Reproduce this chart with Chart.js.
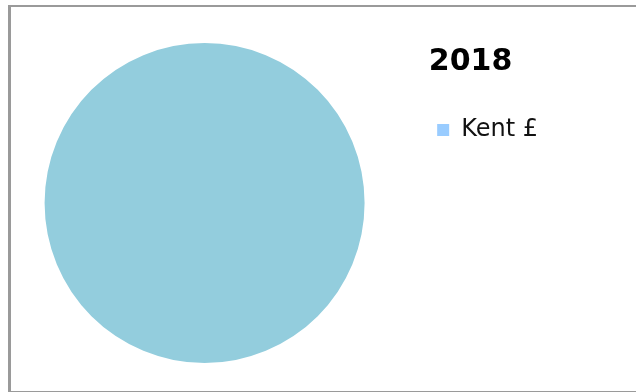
<!DOCTYPE html>
<html>
<head>
<meta charset="utf-8">
<script src="https://cdn.jsdelivr.net/npm/chart.js@4"></script>
<style>
  body { margin: 0; background: #fff; }
  #frame {
    position: absolute; left: 8px; top: 5px;
    width: 628px; height: 384px;
    border-left: 3px solid #9a9a9a;
    border-top: 2px solid #9a9a9a;
    border-bottom: 2px solid #9a9a9a;
  }
</style>
</head>
<body>
<div id="frame"><canvas id="myPieChart" width="625" height="384"></canvas></div>
<script>
// DATA
var labels = ['Kent £'];
var values = [100];
var title = '2018';

var sliceColor = '#93cddd';
var legendColor = '#99ccff';

// PIE CHART
var ctx = document.getElementById('myPieChart').getContext('2d');
var chart = new Chart(ctx, {
    type: 'pie',
    data: {
        labels: labels,
        datasets: [{
            data: values,
            backgroundColor: sliceColor,
            borderWidth: 0,
            radius: 160
        }]
    },
    options: {
        responsive: false,
        animation: false,
        layout: { padding: { left: 5, right: 88, top: 8, bottom: 0 } },
        plugins: {
            tooltip: { enabled: false },
            legend: {
                position: 'right',
                align: 'start',
                title: {
                    display: true,
                    text: title,
                    color: '#000',
                    font: { family: 'DejaVu Sans', size: 30, weight: 'bold', lineHeight: 0.8 },
                    padding: { top: 32, bottom: 3 }
                },
                labels: {
                    boxWidth: 12,
                    boxHeight: 12,
                    padding: 44,
                    color: '#111',
                    font: { family: 'DejaVu Sans', size: 24 },
                    generateLabels: function(c) {
                        var items = Chart.overrides.pie.plugins.legend.labels.generateLabels(c);
                        items.forEach(function(it) { it.fillStyle = legendColor; it.lineWidth = 0; });
                        return items;
                    }
                }
            }
        }
    }
});
</script>
</body>
</html>
